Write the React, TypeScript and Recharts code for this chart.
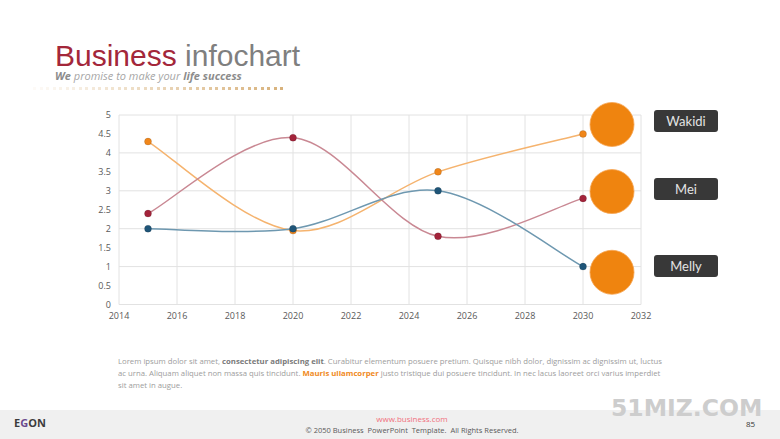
import { ComposedChart, Line, Scatter, XAxis, YAxis, CartesianGrid } from "recharts";

const years = [2015, 2020, 2025, 2030];
const wakidi = [4.3, 1.95, 3.5, 4.5];
const mei = [2.4, 4.4, 1.8, 2.8];
const melly = [2.0, 2.0, 3.0, 1.0];

const xTicks = [2014, 2016, 2018, 2020, 2022, 2024, 2026, 2028, 2030, 2032];
const yTicks = [0, 0.5, 1, 1.5, 2, 2.5, 3, 3.5, 4, 4.5, 5];

// big orange markers beside the line ends
const bubbleYears = [2031, 2031, 2031];
const bubbleValues = [4.75, 2.98, 0.85];
const names = ["Wakidi", "Mei", "Melly"];

const data = years.map((year, i) => ({
  year,
  wakidi: wakidi[i],
  mei: mei[i],
  melly: melly[i],
}));

const bubbles = bubbleYears.map((year, i) => ({ year, value: bubbleValues[i] }));

// Excel-style smoothed line (Catmull-Rom as cubic bezier)
function excelSmooth(context: any) {
  let xs: number[] = [];
  let ys: number[] = [];
  return {
    areaStart() {},
    areaEnd() {},
    lineStart() {
      xs = [];
      ys = [];
    },
    point(x: number, y: number) {
      xs.push(+x);
      ys.push(+y);
    },
    lineEnd() {
      const n = xs.length;
      if (!n) return;
      context.moveTo(xs[0], ys[0]);
      for (let i = 0; i < n - 1; i++) {
        const a = Math.max(i - 1, 0);
        const d = Math.min(i + 2, n - 1);
        const c1x = xs[i] + (xs[i + 1] - xs[a]) / 6;
        const c1y = ys[i] + (ys[i + 1] - ys[a]) / 6;
        const c2x = xs[i + 1] - (xs[d] - xs[i]) / 6;
        const c2y = ys[i + 1] - (ys[d] - ys[i]) / 6;
        context.bezierCurveTo(c1x, c1y, c2x, c2y, xs[i + 1], ys[i + 1]);
      }
    },
  };
}

const series = [
  { key: "wakidi", line: "#f5b36e", dot: "#f0861a" },
  { key: "mei", line: "#c98893", dot: "#a3233a" },
  { key: "melly", line: "#6e98b0", dot: "#1f5578" },
];

const labelTops = [110, 178, 255];

const tick = { fontSize: 9, fill: "#595959", fontFamily: "Open Sans" };

export default function App() {
  const dots = Array.from({ length: 39 }, (_, i) => i);
  return (
    <div
      style={{
        position: "absolute",
        left: 0,
        top: 0,
        width: 780,
        height: 439,
        background: "#fff",
        overflow: "hidden",
        fontFamily: "Open Sans",
      }}
    >
      <div
        style={{
          position: "absolute",
          left: 55,
          top: 43,
          fontFamily: "Liberation Sans",
          fontSize: 30,
          lineHeight: "26px",
          whiteSpace: "nowrap",
        }}
      >
        <span style={{ color: "#a3273a" }}>Business</span>
        <span style={{ color: "#7f7f7f" }}> infochart</span>
      </div>
      <div
        style={{
          position: "absolute",
          left: 55,
          top: 70,
          fontSize: 11,
          lineHeight: "11px",
          fontStyle: "italic",
          color: "#a6a6a6",
          whiteSpace: "nowrap",
        }}
      >
        <b style={{ color: "#8c8c8c" }}>We</b> promise to make your{" "}
        <b style={{ color: "#8c8c8c" }}>life success</b>
      </div>
      {dots.map((i) => (
        <div
          key={i}
          style={{
            position: "absolute",
            left: 33 + i * 6.5,
            top: 87,
            width: 3,
            height: 3,
            background: "#d8b27c",
            opacity: 0.06 + (0.94 * i) / 38,
          }}
        />
      ))}

      <div style={{ position: "absolute", left: 0, top: 0 }}>
        <ComposedChart
          width={780}
          height={439}
          data={data}
          margin={{ top: 115, right: 139, bottom: 104.5, left: 89 }}
        >
          <CartesianGrid stroke="#e2e2e2" strokeWidth={1} />
          <XAxis
            dataKey="year"
            type="number"
            domain={[2014, 2032]}
            ticks={xTicks}
            tick={tick}
            axisLine={false}
            tickLine={false}
            height={30}
          />
          <YAxis
            type="number"
            domain={[0, 5]}
            ticks={yTicks}
            tick={tick}
            axisLine={false}
            tickLine={false}
            width={30}
          />
          {series.map((s) => (
            <Line
              key={s.key}
              dataKey={s.key}
              type={excelSmooth as any}
              stroke={s.line}
              strokeWidth={1.5}
              dot={{ r: 3.5, fill: s.dot, stroke: "rgba(0,0,0,0.12)", strokeWidth: 1 }}
              activeDot={false}
              isAnimationActive={false}
            />
          ))}
          <Scatter
            data={bubbles}
            dataKey="value"
            isAnimationActive={false}
            shape={(p: any) => (
              <circle cx={p.cx} cy={p.cy} r={22} fill="#ef840f" stroke="#f6a552" strokeWidth={0.8} />
            )}
          />
        </ComposedChart>
      </div>

      {names.map((n, i) => (
        <div
          key={n}
          style={{
            position: "absolute",
            left: 654,
            top: labelTops[i],
            width: 64,
            height: 22,
            background: "#383838",
            borderRadius: 3,
            color: "#e4e4e4",
            fontFamily: "Lato",
            fontSize: 13,
            lineHeight: "22px",
            textAlign: "center",
          }}
        >
          {n}
        </div>
      ))}

      <div
        style={{
          position: "absolute",
          left: 118,
          top: 355,
          fontSize: 7.75,
          lineHeight: "12px",
          color: "#9d9d9d",
          whiteSpace: "nowrap",
        }}
      >
        Lorem ipsum dolor sit amet, <b style={{ color: "#7a7a7a" }}>consectetur adipiscing elit</b>.
        Curabitur elementum posuere pretium. Quisque nibh dolor, dignissim ac dignissim ut, luctus
        <br />
        ac urna. Aliquam aliquet non massa quis tincidunt.{" "}
        <b style={{ color: "#f08a1c" }}>Mauris ullamcorper</b> justo tristique dui posuere
        tincidunt. In nec lacus laoreet orci varius imperdiet
        <br />
        sit amet in augue.
      </div>

      <div
        style={{
          position: "absolute",
          left: 0,
          top: 410,
          width: 780,
          height: 29,
          background: "#f0f0f0",
        }}
      />
      <div
        style={{
          position: "absolute",
          left: 14,
          top: 415,
          fontSize: 11,
          fontWeight: 700,
          lineHeight: "16px",
          color: "#3c3c3c",
        }}
      >
        E<span style={{ color: "#6a4a8e" }}>G</span>ON
      </div>
      <div
        style={{
          position: "absolute",
          left: 611,
          top: 393,
          fontFamily: "DejaVu Sans",
          fontWeight: 700,
          fontSize: 23.5,
          lineHeight: "30px",
          color: "#cdcdcd",
          whiteSpace: "nowrap",
        }}
      >
        51MIZ.COM
      </div>
      <div
        style={{
          position: "absolute",
          left: 0,
          width: 824,
          top: 413,
          fontSize: 8,
          lineHeight: "12px",
          color: "#f0707e",
          textAlign: "center",
        }}
      >
        www.business.com
      </div>
      <div
        style={{
          position: "absolute",
          left: 0,
          width: 824,
          top: 424,
          fontSize: 7.5,
          lineHeight: "12px",
          color: "#5a5a5a",
          textAlign: "center",
          whiteSpace: "pre",
        }}
      >
        © 2050 Business  PowerPoint  Template.  All Rights Reserved.
      </div>
      <div
        style={{
          position: "absolute",
          left: 746,
          top: 418,
          fontSize: 8,
          lineHeight: "12px",
          color: "#333",
        }}
      >
        85
      </div>
    </div>
  );
}
